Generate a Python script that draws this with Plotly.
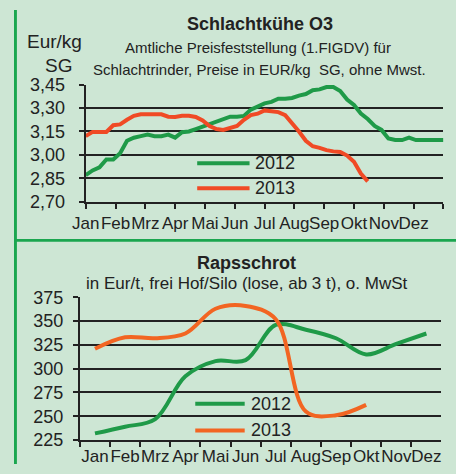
import plotly.graph_objects as go

W, H = 456, 474

# ---------------- data: top chart (weekly prices, EUR/kg SG) ----------------
months = ["Jan", "Feb", "Mrz", "Apr", "Mai", "Jun", "Jul", "Aug", "Sep", "Okt", "Nov", "Dez"]
weeks_2012 = list(range(0, 53))
kuehe_2012 = [2.87, 2.90, 2.92, 2.97, 2.97, 3.01, 3.09, 3.11, 3.12, 3.13,
              3.12, 3.12, 3.13, 3.11, 3.145, 3.15, 3.165, 3.18, 3.195, 3.21,
              3.225, 3.245, 3.245, 3.25, 3.29, 3.31, 3.33, 3.34, 3.36, 3.36,
              3.365, 3.38, 3.39, 3.415, 3.42, 3.435, 3.435, 3.41, 3.355, 3.32,
              3.265, 3.23, 3.185, 3.16, 3.105, 3.095, 3.095, 3.11, 3.095, 3.095,
              3.095, 3.095, 3.095]
weeks_2013 = list(range(0, 42))
kuehe_2013 = [3.12, 3.147, 3.147, 3.147, 3.19, 3.195, 3.225, 3.25, 3.26, 3.26,
              3.26, 3.26, 3.245, 3.243, 3.25, 3.25, 3.243, 3.22, 3.185, 3.165,
              3.16, 3.17, 3.185, 3.225, 3.255, 3.264, 3.285, 3.28, 3.274, 3.255,
              3.205, 3.15, 3.09, 3.055, 3.045, 3.03, 3.022, 3.018, 2.995, 2.955,
              2.88, 2.83]
top_yticks = [2.70, 2.85, 3.00, 3.15, 3.30, 3.45]

# ---------------- data: bottom chart (Rapsschrot, Eur/t) ----------------
raps_2012 = [232, 239, 247, 292, 308, 309, 346, 341, 332, 315, 326, 337]
raps_2013 = [321, 333, 332, 337, 363, 366, 352, 255, 251, 262]
bot_yticks = [225, 250, 275, 300, 325, 350, 375]

GREEN = "#1f9a48"
RED_TOP = "#f04a25"
ORANGE = "#f26522"
BG = "#cde6d4"
FRAME = "#1aa64f"
GRID = "#222222"
TXT = "#222222"
FONT = "Liberation Sans, Arial, sans-serif"


def px_x(p):
    return p / W


def px_y(p):
    return 1 - p / H


fig = go.Figure()

fig.add_trace(go.Scatter(x=weeks_2012, y=kuehe_2012, mode="lines", name="2012",
                         line=dict(color=GREEN, width=4), xaxis="x", yaxis="y",
                         showlegend=False, cliponaxis=False))
fig.add_trace(go.Scatter(x=weeks_2013, y=kuehe_2013, mode="lines", name="2013",
                         line=dict(color=RED_TOP, width=4), xaxis="x", yaxis="y",
                         showlegend=False, cliponaxis=False))
fig.add_trace(go.Scatter(x=months, y=raps_2012, mode="lines", name="2012",
                         line=dict(color=GREEN, width=4, shape="spline", smoothing=1.0),
                         xaxis="x2", yaxis="y2", showlegend=False))
fig.add_trace(go.Scatter(x=months[:len(raps_2013)], y=raps_2013, mode="lines", name="2013",
                         line=dict(color=ORANGE, width=4, shape="spline", smoothing=1.0),
                         xaxis="x2", yaxis="y2", showlegend=False))

month_tickvals = [k * 52 / 12 for k in range(13)]

fig.update_layout(
    width=W, height=H, autosize=False,
    margin=dict(l=0, r=0, t=0, b=0),
    paper_bgcolor=BG, plot_bgcolor=BG,
    separators=",.",
    font=dict(family=FONT, color=TXT, size=17),
    xaxis=dict(domain=[px_x(74), px_x(443)], range=[0, 52], anchor="y",
               tickvals=month_tickvals, ticktext=months + [""], tickangle=0,
               ticks="outside", ticklen=5, tickwidth=2, tickcolor=GRID,
               showline=True, linecolor=GRID, linewidth=2, showgrid=False,
               zeroline=False, tickfont=dict(size=17, color=TXT)),
    yaxis=dict(domain=[px_y(200), px_y(78)], range=[2.70, 3.45], anchor="x",
               tickvals=top_yticks, tickformat=".2f",
               ticks="outside", ticklen=5, tickwidth=2, tickcolor=GRID,
               showline=True, linecolor=GRID, linewidth=2,
               showgrid=True, gridcolor=GRID, gridwidth=2, zeroline=False,
               tickfont=dict(size=18, color=TXT), ticklabelstandoff=10),
    xaxis2=dict(domain=[px_x(68), px_x(441)], anchor="y2", type="category",
                categoryorder="array", categoryarray=months, range=[-0.5, 11.5],
                ticks="outside", ticklen=5, tickwidth=2, tickcolor=GRID,
                tickson="boundaries", tickangle=0,
                showline=True, linecolor=GRID, linewidth=2, showgrid=False,
                zeroline=False, tickfont=dict(size=17, color=TXT)),
    yaxis2=dict(domain=[px_y(449), px_y(300)], range=[225, 375], anchor="x2",
                tickvals=bot_yticks,
                ticks="outside", ticklen=5, tickwidth=2, tickcolor=GRID,
                showline=True, linecolor=GRID, linewidth=2,
                showgrid=True, gridcolor=GRID, gridwidth=2, zeroline=False,
                tickfont=dict(size=18, color=TXT), ticklabelstandoff=6),
)

shapes = [
    # frame: left bar and separator
    dict(type="rect", xref="paper", yref="paper", x0=0, x1=px_x(3), y0=0, y1=1,
         fillcolor=FRAME, line=dict(width=0), layer="above"),
    dict(type="rect", xref="paper", yref="paper", x0=0, x1=1, y0=px_y(242), y1=px_y(239),
         fillcolor=FRAME, line=dict(width=0), layer="above"),
    # legend keys
    dict(type="line", xref="paper", yref="paper", x0=px_x(189), x1=px_x(243),
         y0=px_y(160), y1=px_y(160), line=dict(color=GREEN, width=4)),
    dict(type="line", xref="paper", yref="paper", x0=px_x(189), x1=px_x(243),
         y0=px_y(186), y1=px_y(186), line=dict(color=RED_TOP, width=4)),
    dict(type="line", xref="paper", yref="paper", x0=px_x(187), x1=px_x(238),
         y0=px_y(411), y1=px_y(411), line=dict(color=GREEN, width=4)),
    dict(type="line", xref="paper", yref="paper", x0=px_x(187), x1=px_x(238),
         y0=px_y(439), y1=px_y(439), line=dict(color=ORANGE, width=4)),
]
fig.update_layout(shapes=shapes)


def ann(text, x, y, size, bold=False, xanchor="center"):
    return dict(text=f"<b>{text}</b>" if bold else text, xref="paper", yref="paper",
                x=px_x(x), y=px_y(y), xanchor=xanchor, yanchor="middle",
                showarrow=False, font=dict(family=FONT, size=size, color=TXT))


annotations = [
    ann("Schlachtkühe O3", 254, 15, 18, bold=True),
    ann("Amtliche Preisfeststellung (1.FIGDV) für", 252, 39, 15),
    ann("Schlachtrinder, Preise in EUR/kg  SG, ohne Mwst.", 253, 62, 15),
    ann("Eur/kg", 42, 33, 19),
    ann("SG", 46, 58, 19),
    ann("2012", 247, 160, 18, xanchor="left"),
    ann("2013", 247, 186, 18, xanchor="left"),
    ann("Rapsschrot", 240, 264, 18, bold=True),
    ann("in Eur/t, frei Hof/Silo (lose, ab 3 t), o. MwSt", 240, 286, 17),
    ann("2012", 242, 411, 18, xanchor="left"),
    ann("2013", 242, 439, 18, xanchor="left"),
]
fig.update_layout(annotations=annotations)

page_fix = (
    "document.documentElement.style.margin='0';"
    "document.body.style.margin='0';document.body.style.padding='0';"
    "document.body.style.overflow='hidden';"
    "var gd=document.getElementsByClassName('plotly-graph-div')[0];"
    "gd.style.position='absolute';gd.style.left='0px';gd.style.top='0px';"
)
fig.write_html("out.html", config={"displayModeBar": False}, post_script=page_fix)
